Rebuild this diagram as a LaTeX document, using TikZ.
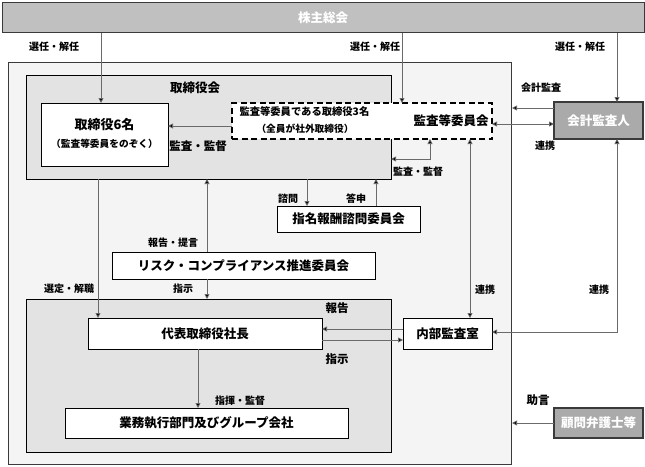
\documentclass[tikz,border=0pt]{standalone}
\usepackage{fontspec}
\setmainfont{Noto Sans CJK JP}
\usetikzlibrary{arrows.meta}
\definecolor{barfill}{HTML}{C0C0C0}
\definecolor{outerfill}{HTML}{F4F4F4}
\definecolor{grayfill}{HTML}{E3E3E3}
\definecolor{darkfill}{HTML}{AAAAAA}
\definecolor{linegray}{HTML}{6A6A6A}
\definecolor{edgegray}{HTML}{3A3A3A}
\begin{document}
\begin{tikzpicture}[x=1pt,y=-1pt,
  rbox/.style={draw=black, line width=0.9pt, fill=white, anchor=north west, inner sep=0pt, outer sep=0pt},
  gbox/.style={draw=black, line width=0.9pt, fill=grayfill, anchor=north west, inner sep=0pt, outer sep=0pt},
  dbox/.style={draw=edgegray, line width=1.6pt, fill=darkfill, anchor=north west, inner sep=0pt, outer sep=0pt, text=white},
  big/.style={font=\fontsize{12.5}{14}\selectfont\bfseries},
  mid/.style={font=\fontsize{11.5}{13}\selectfont\bfseries},
  lbl/.style={font=\fontsize{10}{11}\selectfont\bfseries},
  fine/.style={font=\fontsize{9.7}{11}\selectfont\bfseries},
  con/.style={draw=linegray, line width=0.8pt},
  tip/.style={-{Triangle[length=5pt,width=5pt,fill=black]}},
  tips/.style={{Triangle[length=5pt,width=5pt,fill=black]}-{Triangle[length=5pt,width=5pt,fill=black]}}
]
\useasboundingbox (0,0) rectangle (645,466);

% coordinates for connector positions
\coordinate (x98) at (98,0);
\coordinate (x101) at (101,0);
\coordinate (x198) at (198,0);
\coordinate (x207) at (207,0);
\coordinate (x307) at (307,0);
\coordinate (x376) at (376,0);
\coordinate (x402) at (402,0);
\coordinate (x430) at (430,0);
\coordinate (x470) at (470,0);
\coordinate (x617) at (617,0);
\coordinate (y108) at (0,108);
\coordinate (y124) at (0,124);
\coordinate (y126) at (0,126);
\coordinate (y159) at (0,159);
\coordinate (y329) at (0,329);
\coordinate (y332) at (0,332);
\coordinate (y340) at (0,340);
\coordinate (y423) at (0,423);

% boxes
\node[draw=edgegray, line width=1.4pt, fill=barfill, anchor=north west, inner sep=0pt, minimum width=642pt, minimum height=30pt, text=white, big] (bar) at (1.5,2) {株主総会};
\node[draw=edgegray, line width=1pt, fill=outerfill, anchor=north west, inner sep=0pt, minimum width=503pt, minimum height=402pt] (outer) at (8,62) {};
\node[gbox, minimum width=365pt, minimum height=104pt] (board) at (26,75) {};
\node[big] (boardlbl) at (195,88) {取締役会};
\node[rbox, minimum width=127pt, minimum height=63pt] (six) at (41,103) {};
\node[font=\fontsize{13}{15}\selectfont\bfseries] (sixa) at (104.5,125) {取締役6名};
\node[fine] (sixb) at (104.5,144) {（監査等委員をのぞく）};
\node[rbox, draw=black, line width=1.8pt, dash pattern=on 6pt off 3.5pt, minimum width=260pt, minimum height=36pt] (audit) at (232,103) {};
\node[font=\fontsize{10.3}{12}\selectfont\bfseries, anchor=west] (audita) at (236,112) {監査等委員である取締役3名};
\node[fine] (auditb) at (305,129) {（全員が社外取締役）};
\node[big] (auditc) at (451,121) {監査等委員会};
\node[rbox, minimum width=143pt, minimum height=26pt, big] (nom) at (277,206) {指名報酬諮問委員会};
\node[rbox, minimum width=263pt, minimum height=27pt, big] (risk) at (112,252) {リスク・コンプライアンス推進委員会};
\node[gbox, minimum width=365pt, minimum height=153pt] (exec) at (26,299) {};
\node[rbox, minimum width=234pt, minimum height=31pt, big] (pres) at (88,318) {代表取締役社長};
\node[rbox, minimum width=89pt, minimum height=31pt, big] (internal) at (403,318) {内部監査室};
\node[rbox, minimum width=283pt, minimum height=30pt, big] (biz) at (65,408) {業務執行部門及びグループ会社};
\node[dbox, minimum width=89pt, minimum height=37pt, big] (acct) at (554,102) {会計監査人};
\node[dbox, minimum width=89pt, minimum height=30pt, big] (lawyer) at (554,408) {顧問弁護士等};

% connectors
\draw[con,tip] (x101 |- bar.south) -- (x101 |- six.north);
\draw[con,tip] (x402 |- bar.south) -- (x402 |- audit.north);
\draw[con,tip] (x617 |- bar.south) -- (x617 |- acct.north);
\draw[con,tip] (audit.west |- y126) -- (six.east |- y126);
\draw[con,tips] (board.east |- y159) -| (x430 |- audit.south);
\draw[con,tips] (x470 |- audit.south) -- (x470 |- internal.north);
\draw[con,tips] (audit.east |- y124) -- (acct.west |- y124);
\draw[con,tip] (acct.west |- y108) -- (outer.east |- y108);
\draw[con,tips] (x617 |- acct.south) |- (internal.east |- y332);
\draw[con,tip] (x307 |- board.south) -- (x307 |- nom.north);
\draw[con,tip] (x376 |- nom.north) -- (x376 |- board.south);
\draw[con,tip] (x207 |- risk.north) -- (x207 |- board.south);
\draw[con,tip] (x207 |- risk.south) -- (x207 |- exec.north);
\draw[con,tip] (x98 |- board.south) -- (x98 |- pres.north);
\draw[con,tip] (internal.west |- y329) -- (pres.east |- y329);
\draw[con,tip] (pres.east |- y340) -- (internal.west |- y340);
\draw[con,tip] (x198 |- pres.south) -- (x198 |- biz.north);
\draw[con,tip] (lawyer.west |- y423) -- (outer.east |- y423);

% labels
\node[lbl] (l1) at (54,47) {選任・解任};
\node[lbl] (l2) at (375,47) {選任・解任};
\node[lbl] (l3) at (580,47) {選任・解任};
\node[mid] (l4) at (198,146) {監査・監督};
\node[lbl] (l5) at (418,172) {監査・監督};
\node[lbl] (l6) at (541,88) {会計監査};
\node[lbl] (l7) at (545,146) {連携};
\node[lbl] (l8) at (288,199) {諮問};
\node[lbl] (l9) at (356,199) {答申};
\node[lbl] (l10) at (173,243) {報告・提言};
\node[lbl] (l11) at (69,289) {選定・解職};
\node[lbl] (l12) at (183,289) {指示};
\node[lbl] (l13) at (485,290) {連携};
\node[lbl] (l14) at (599,290) {連携};
\node[mid] (l15) at (337,308) {報告};
\node[mid] (l16) at (337,359) {指示};
\node[lbl] (l17) at (240,401) {指揮・監督};
\node[mid] (l18) at (538,400) {助言};
\end{tikzpicture}
\end{document}
